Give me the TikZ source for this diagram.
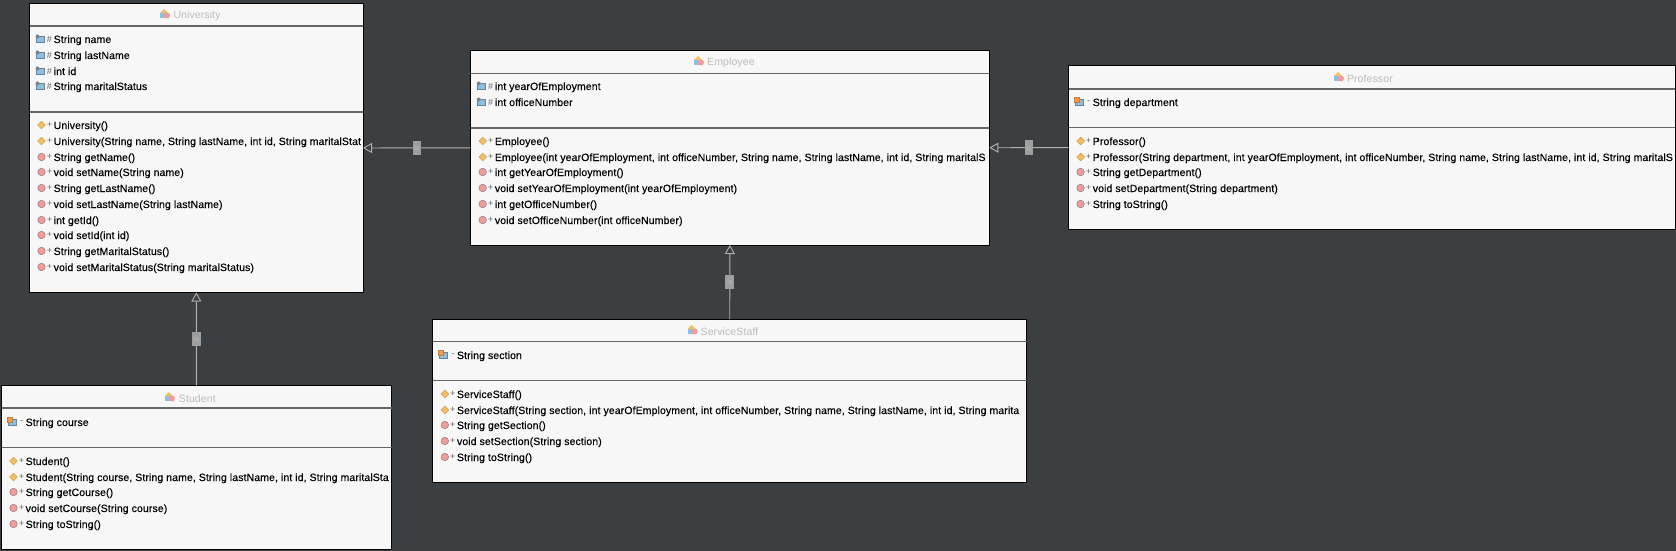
\documentclass[tikz,border=0pt]{standalone}
\usepackage{fontspec}
\usetikzlibrary{arrows.meta,shapes.geometric}
\newfontfamily\umlfont[LetterSpace=1]{Liberation Sans}
\newfontfamily\umlbold[LetterSpace=1,FakeBold=0.3]{Liberation Sans}

\definecolor{canvasgray}{HTML}{3C3F41}
\definecolor{boxgray}{HTML}{F7F7F7}
\definecolor{sepgray}{HTML}{666666}
\definecolor{titlegray}{HTML}{BBBBBB}
\definecolor{linegray}{HTML}{B0B0B0}
\definecolor{fieldblue}{HTML}{8FBFE0}
\definecolor{ctororange}{HTML}{F2BE60}
\definecolor{methodred}{HTML}{F49A9A}

\tikzset{
  classbox/.style={draw=black, line width=1pt, fill=boxgray, inner sep=0pt, outer sep=0pt, anchor=north west},
  title/.style={anchor=base west, inner sep=0pt, text=titlegray, font=\umlfont\fontsize{10.5}{13}\selectfont},
  member/.style={anchor=base west, inner sep=0pt, text=black, font=\umlbold\fontsize{10.5}{13}\selectfont},
  visib/.style={inner sep=0pt, text=sepgray, font=\umlfont\fontsize{9}{9}\selectfont},
  fieldbox/.style={rectangle, fill=fieldblue, draw=fieldblue!70!black, line width=0.5pt, inner sep=0pt, minimum width=8.5pt, minimum height=6pt},
  protbadge/.style={circle, fill=gray, inner sep=0pt, minimum size=4pt},
  privbadge/.style={rectangle, fill=ctororange!80!red, draw=brown, line width=0.4pt, inner sep=0pt, minimum size=4.5pt},
  ctoricon/.style={diamond, fill=ctororange, draw=ctororange!80!black, line width=0.4pt, inner sep=0pt, minimum size=8pt},
  methodicon/.style={circle, fill=methodred, draw=gray, line width=0.5pt, inner sep=0pt, minimum size=7.5pt},
  isa/.style={draw=linegray, line width=0.9pt, -{Triangle[open, length=9pt, width=10pt]}},
  islabel/.style={fill=black!38, text=titlegray, inner sep=0pt, minimum width=8.7pt, minimum height=14.4pt, font=\sffamily\fontsize{8}{9}\selectfont}
}

% one row of the attribute list
\newcommand{\fieldrow}[6]{%
  \node (#1-#3-box) [fieldbox] at ({#2+10.5},{#3+0.5}) {};
  \node (#1-#3-badge) [#4] at ({#2+8},{#3-2.5}) {};
  \node (#1-#3-vis) [visib] at ({#2+20},#3) {#5};
  \node (#1-#3-text) [member] at ({#2+24},{#3+4}) {#6};
}
% one row of the operation list
\newcommand{\methodrow}[5]{%
  \node (#1-#3-icon) [#4] at ({#2+12},#3) {};
  \node (#1-#3-vis) [visib] at ({#2+20},#3) {+};
  \node (#1-#3-text) [member] at ({#2+24},{#3+4}) {#5};
}
% small class symbol in front of a title
\newcommand{\classicon}[2]{%
  \fill [fieldblue] ({#1-5},{#2-1}) rectangle ({#1+2},{#2+4});
  \fill [ctororange] ({#1-5},{#2-1}) -- ({#1-1},{#2-5}) -- ({#1+3},{#2-1}) -- cycle;
  \fill [methodred] ({#1+2},{#2+1.5}) circle (3);
}

\begin{document}
\begin{tikzpicture}[x=1pt, y=-1pt]
\useasboundingbox (0,0) rectangle (1676,551);
\fill [canvasgray] (0,0) rectangle (1676,551);

% class boxes with their compartment lines and titles
\foreach \cname/\cleft/\ctop/\cright/\cbottom/\cline/\cdiv/\ctx/\cty/\cclip/\cicon in {
  University/29.5/3.5/363/292.5/26/112/173.3/19/219/165,
  Employee/470.7/50.7/989.3/245/73.3/128/707/66/753.4/699,
  Professor/1068.6/65.7/1675/229.3/89/127.7/1346.8/82/1400/1339,
  ServiceStaff/432.8/319/1026.5/482.3/341.7/380.7/700.5/335/759.6/692.7,
  Student/1.5/385.7/391.5/549.3/408/447.7/178.7/402/220/170} {
  \node (\cname) [classbox, minimum width={(\cright-\cleft)*1pt}, minimum height={(\cbottom-\ctop)*1pt}] at (\cleft,\ctop) {};
  \draw [sepgray, line width=1.2pt] (\cname.west |- 0,\cline) -- (\cname.east |- 0,\cline);
  \draw [sepgray, line width=1.2pt] (\cname.west |- 0,\cdiv) -- (\cname.east |- 0,\cdiv);
  \classicon{\cicon}{\cty-5}
  \begin{scope}
    \clip ({\ctx-1},\ctop) rectangle (\cclip,\cline);
    \node (\cname-title) [title] at (\ctx,\cty) {\cname};
  \end{scope}
}

% University
\foreach \y/\mtext in {39/String name, 55/String lastName, 71/int id, 86/String maritalStatus} {
  \fieldrow{University}{29.5}{\y}{protbadge}{\#}{\mtext}
}
\foreach \y/\mstyle/\mtext in {125/ctoricon/University(),
  141/ctoricon/{University(String name, String lastName, int id, String maritalStat},
  157/methodicon/String getName(), 172/methodicon/void setName(String name),
  188/methodicon/String getLastName(), 204/methodicon/void setLastName(String lastName),
  220/methodicon/int getId(), 235/methodicon/void setId(int id),
  251/methodicon/String getMaritalStatus(), 267/methodicon/void setMaritalStatus(String maritalStatus)} {
  \methodrow{University}{29.5}{\y}{\mstyle}{\mtext}
}

% Employee
\foreach \y/\mtext in {86/int yearOfEmployment, 102/int officeNumber} {
  \fieldrow{Employee}{470.7}{\y}{protbadge}{\#}{\mtext}
}
\foreach \y/\mstyle/\mtext in {141/ctoricon/Employee(),
  157/ctoricon/{Employee(int yearOfEmployment, int officeNumber, String name, String lastName, int id, String maritalS},
  172/methodicon/int getYearOfEmployment(), 188/methodicon/void setYearOfEmployment(int yearOfEmployment),
  204/methodicon/int getOfficeNumber(), 220/methodicon/void setOfficeNumber(int officeNumber)} {
  \methodrow{Employee}{470.7}{\y}{\mstyle}{\mtext}
}

% Professor
\foreach \y/\mtext in {102/String department} {
  \fieldrow{Professor}{1068.6}{\y}{privbadge}{-}{\mtext}
}
\foreach \y/\mstyle/\mtext in {141/ctoricon/Professor(),
  157/ctoricon/{Professor(String department, int yearOfEmployment, int officeNumber, String name, String lastName, int id, String maritalS},
  172/methodicon/String getDepartment(), 188/methodicon/void setDepartment(String department),
  204/methodicon/String toString()} {
  \methodrow{Professor}{1068.6}{\y}{\mstyle}{\mtext}
}

% ServiceStaff
\foreach \y/\mtext in {355/String section} {
  \fieldrow{ServiceStaff}{432.8}{\y}{privbadge}{-}{\mtext}
}
\foreach \y/\mstyle/\mtext in {394/ctoricon/ServiceStaff(),
  410/ctoricon/{ServiceStaff(String section, int yearOfEmployment, int officeNumber, String name, String lastName, int id, String marita},
  425/methodicon/String getSection(), 441/methodicon/void setSection(String section),
  457/methodicon/String toString()} {
  \methodrow{ServiceStaff}{432.8}{\y}{\mstyle}{\mtext}
}

% Student
\foreach \y/\mtext in {422/String course} {
  \fieldrow{Student}{1.5}{\y}{privbadge}{-}{\mtext}
}
\foreach \y/\mstyle/\mtext in {461/ctoricon/Student(),
  477/ctoricon/{Student(String course, String name, String lastName, int id, String maritalSta},
  492/methodicon/String getCourse(), 508/methodicon/void setCourse(String course),
  524/methodicon/String toString()} {
  \methodrow{Student}{1.5}{\y}{\mstyle}{\mtext}
}

% inheritance connectors
\draw [isa] (Employee) -- node (isEmployee) [islabel] {is} (University);
\draw [isa] (Professor) -- node (isProfessor) [islabel] {is} (Employee);
\draw [isa] (ServiceStaff) -- node (isServiceStaff) [islabel] {is} (Employee);
\draw [isa] (Student) -- node (isStudent) [islabel] {is} (University);
\end{tikzpicture}
\end{document}
